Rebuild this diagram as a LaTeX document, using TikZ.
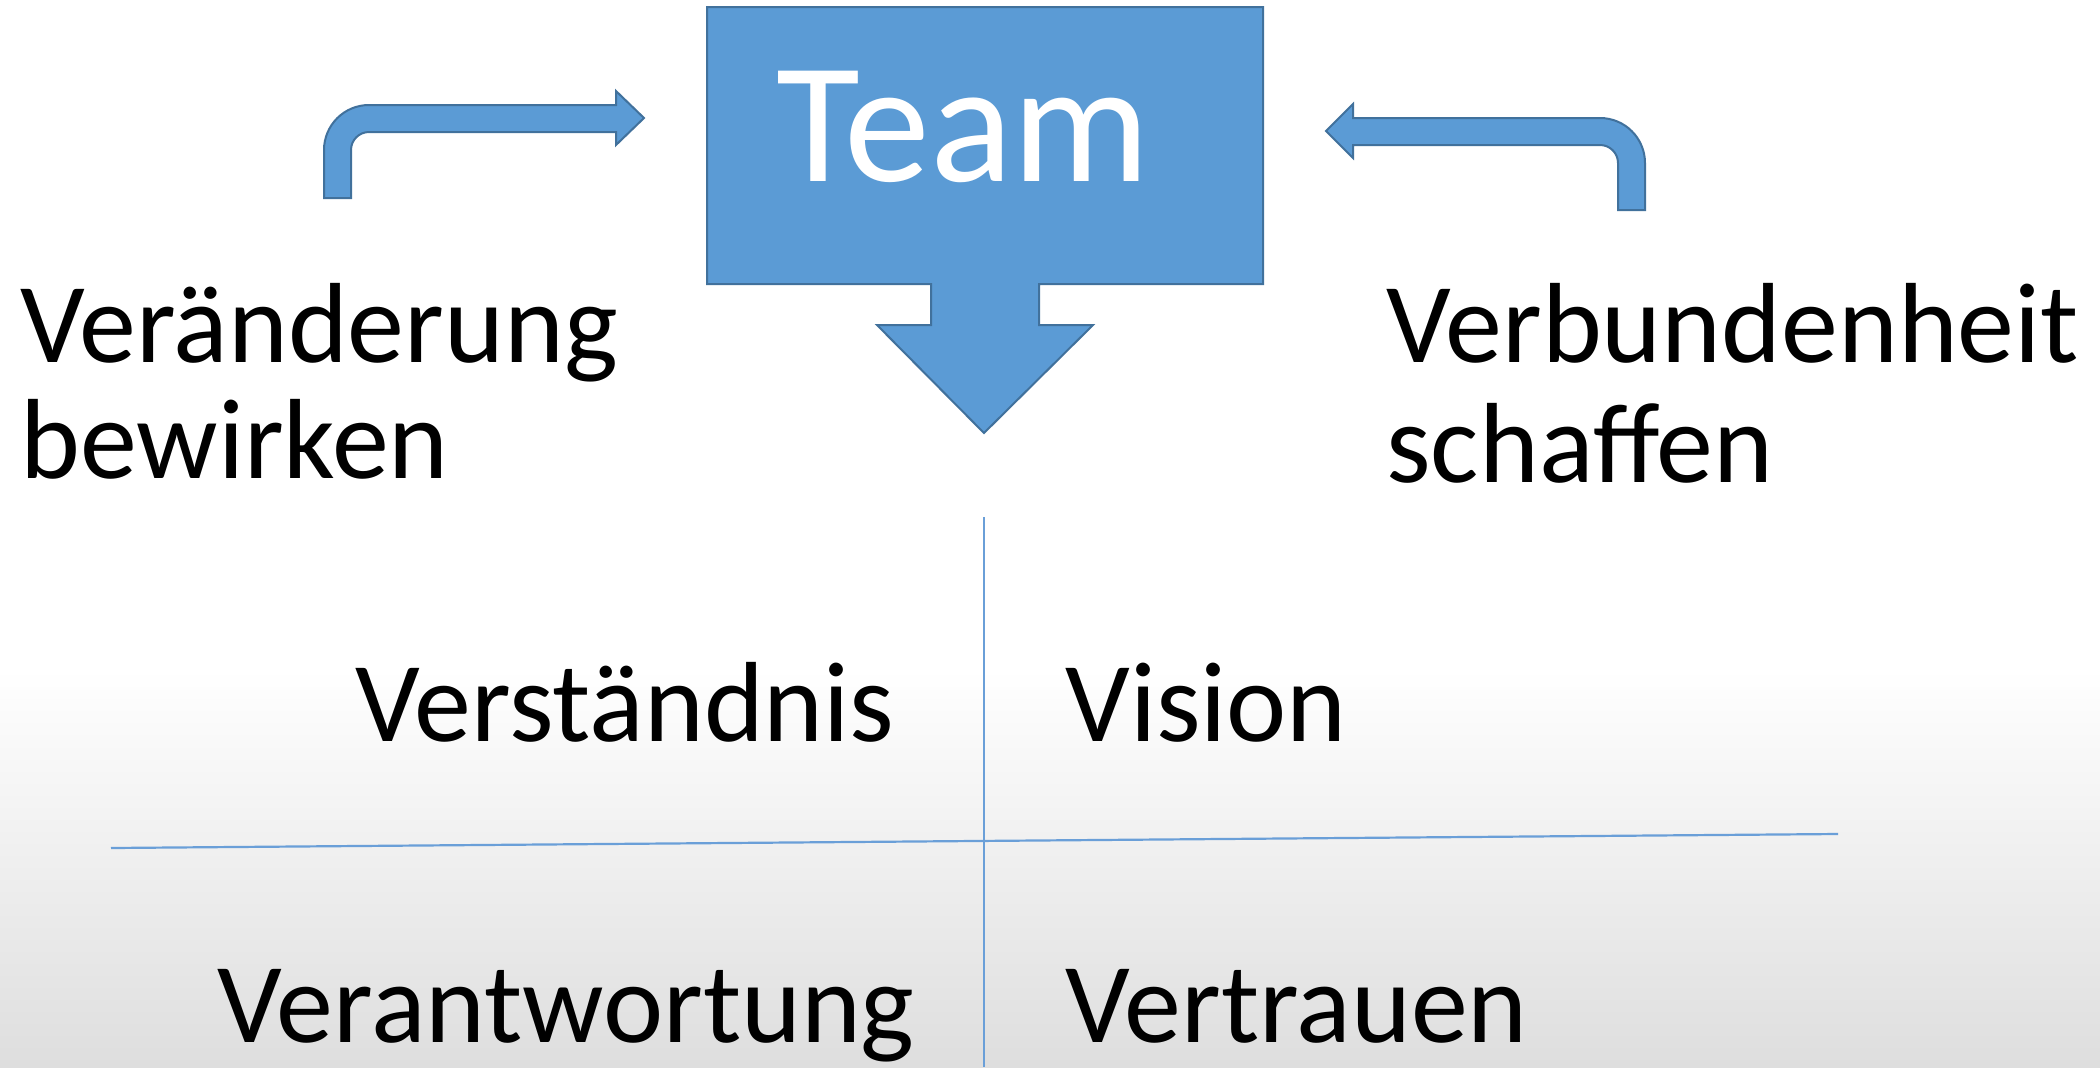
\documentclass[tikz,border=0pt]{standalone}
\usepackage{fontspec}
\setmainfont{Carlito}
\begin{document}
\begin{tikzpicture}[x=0.5pt,y=-0.5pt,
  shapefill/.style={fill=boxblue,draw=boxedge,line width=1pt,line join=miter},
  lbl/.style={anchor=base west,inner sep=0pt,font=\fontsize{57}{58}\selectfont,text=black},
  gridline/.style={draw=lineblue,line width=0.8pt}]
\definecolor{boxblue}{HTML}{5B9BD5}
\definecolor{boxedge}{HTML}{41719C}
\definecolor{lineblue}{HTML}{6A9FD8}
\useasboundingbox (0,0) rectangle (2100,1067);
\fill[white] (0,0) rectangle (2100,670);
\shade[top color=white,bottom color=black!13,draw=none] (0,669) rectangle (2100,1067);
% Team box with down arrow
\path[shapefill] (707,7) -- (1263,7) -- (1263,284) -- (1039,284) -- (1039,325) -- (1093,325) -- (984,433) -- (877,325) -- (931,325) -- (931,284) -- (707,284) -- cycle;
\node[anchor=base,inner sep=0pt,font=\fontsize{86}{88}\selectfont,text=white] (team) at (963,181) {Team};
% left bent arrow
\path[shapefill] (324,198) -- (324,150) arc[start angle=180,end angle=270,radius=45] -- (616,105) -- (616,91) -- (644,118) -- (616,145) -- (616,132) -- (369,132) arc[start angle=270,end angle=180,radius=18] -- (351,198) -- cycle;
% right bent arrow
\path[shapefill] (1645,210) -- (1645,163) arc[start angle=0,end angle=-90,radius=45] -- (1353,118) -- (1353,104) -- (1326,131) -- (1353,158) -- (1353,145) -- (1600,145) arc[start angle=-90,end angle=0,radius=18] -- (1618,210) -- cycle;
% labels
\node[lbl] (ver1) at (20,362) {Veränderung};
\node[lbl] (ver2) at (20,478) {bewirken};
\node[lbl] (verb1) at (1386,362) {Verbundenheit};
\node[lbl] (verb2) at (1386,482) {schaffen};
% cross
\coordinate (vt) at (984,517);
\coordinate (vb) at (984,1067);
\coordinate (hl) at (111,848);
\coordinate (hr) at (1838,834);
\draw[gridline] (vt) -- (vb);
\draw[gridline,line width=1.1pt] (hl) -- (hr);
\node[lbl,anchor=base east] (vers) at (895,741) {Verständnis};
\node[lbl] (vis) at (1065,741) {Vision};
\node[lbl,anchor=base east] (vera) at (915,1042) {Verantwortung};
\node[lbl] (vert) at (1065,1042) {Vertrauen};
\end{tikzpicture}
\end{document}
